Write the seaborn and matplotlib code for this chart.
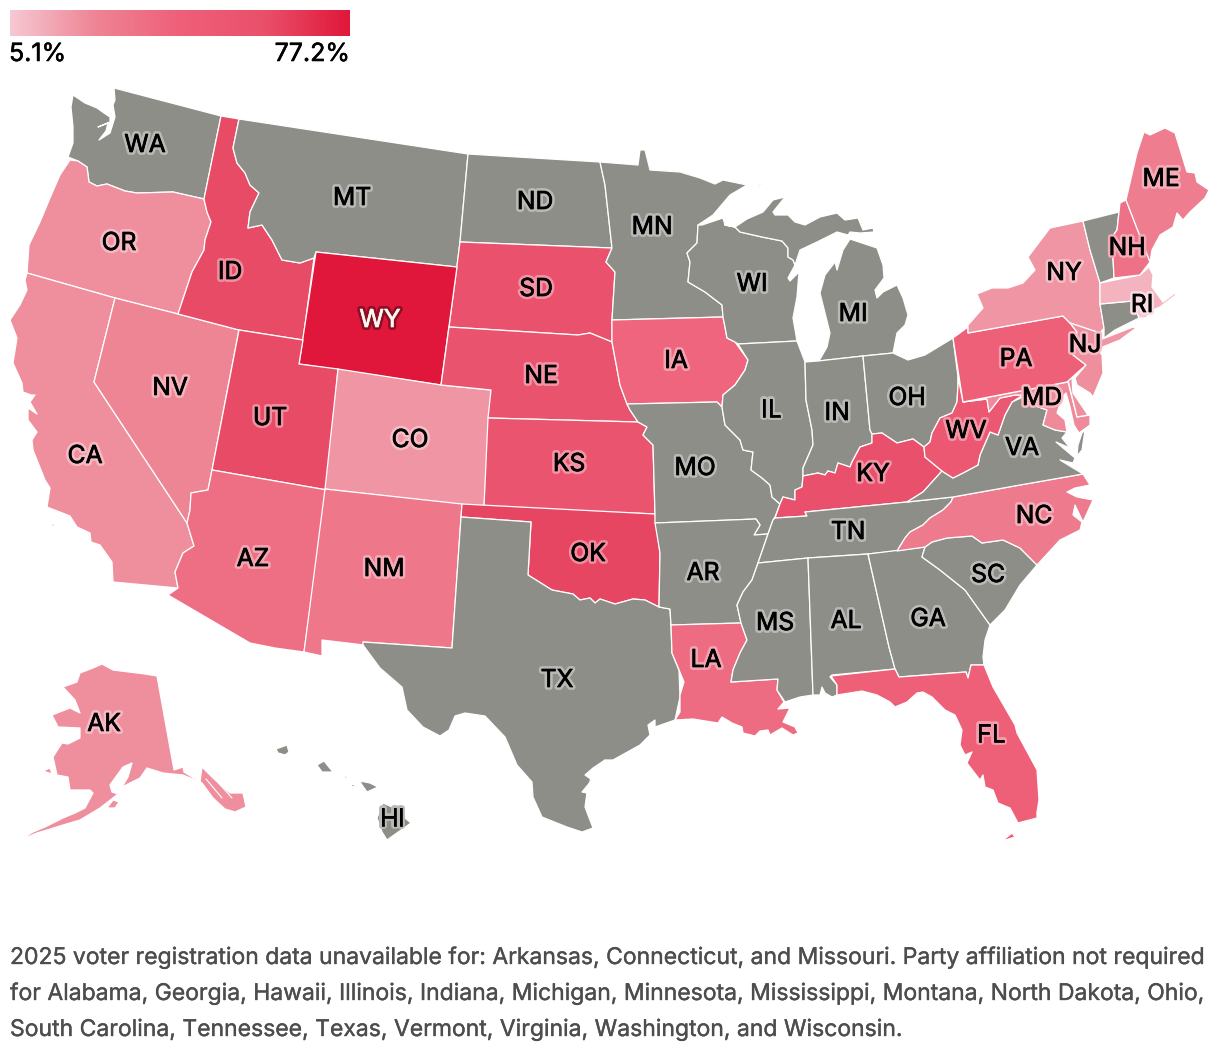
import numpy as np
import pandas as pd
import matplotlib
matplotlib.use("Agg")
import matplotlib.pyplot as plt
import matplotlib.patheffects as pe
from matplotlib.cm import ScalarMappable
from matplotlib.colors import Normalize, to_rgb
import seaborn as sns

sns.set_theme(style="white")
plt.rcParams["font.family"] = ["Inter", "DejaVu Sans"]

# share of registered voters per state (states left out = no data)
states = ["OR", "CA", "AK", "NV", "ID", "UT", "WY", "CO", "AZ", "NM", "SD", "NE", "KS", "OK", "IA", "LA",
          "FL", "KY", "WV", "PA", "NY", "NJ", "DE", "MD", "NC", "ME", "NH", "MA", "RI"]
shares = [20.2, 20.2, 20.2, 23.1, 60.5, 60.5, 77.2, 18.8, 33.9, 29.6, 56.5, 55.0, 54.1, 62.0, 38.3, 34.7,
          41.2, 58.0, 50.0, 41.2, 18.8, 20.2, 20.2, 21.7, 27.5, 26.7, 31.8, 10.9, 5.1]
legend_min = 5.1
legend_max = 77.2
gray = "#8e8e88"
ramp = ["#f5c8d2", "#ee8494", "#ee5f78", "#e94f6a", "#e0173a"]

outlines = {
    "WA": [[(114,88),(221,116),(204,199),(173,192),(137,193),(125,191),(107,184),(97,186),(89,182),(87,167),(78,161),(68,157),(73,143),(73,127),(71,107),(73,95),(85,103),(97,108),(104,113),(110,117),(110,122),(98,127),(108,123),(106,131),(99,140),(110,133),(115,117),(113,105),(115,100)]],
    "OR": [[(70,160),(78,161),(87,167),(89,182),(97,186),(107,184),(125,191),(137,193),(173,192),(204,199),(207,212),(211,222),(205,240),(204,250),(192,272),(178,314),(115,298),(27,273),(29,245),(40,222),(50,198),(60,175)]],
    "CA": [[(27,273),(115,298),(94,382),(187,523),(194,546),(183,553),(175,572),(178,588),(113,582),(112,562),(100,545),(91,542),(90,533),(77,527),(70,516),(47,507),(50,488),(45,480),(33,450),(32,440),(37,432),(28,420),(28,408),(37,414),(30,402),(35,395),(31,395),(23,392),(22,383),(13,363),(17,338),(10,320),(20,305),(27,290),(25,280)],
           [(51,524),(55,524),(53,527)]],
    "NV": [[(115,298),(178,314),(239,330),(212,470),(208,490),(191,493),(190,510),(187,523),(94,382)]],
    "ID": [[(221,116),(239,119),(233,148),(237,163),(245,173),(250,185),(259,193),(250,212),(248,228),(262,225),(272,240),(282,260),(300,263),(314,258),(303,340),(239,330),(178,314),(192,272),(204,250),(205,240),(211,222),(207,212),(204,199)]],
    "MT": [[(239,119),(468,154),(460,242),(457,267),(316,252),(314,258),(300,263),(282,260),(272,240),(262,225),(248,228),(250,212),(259,193),(250,185),(245,173),(237,163),(233,148)]],
    "ND": [[(468,154),(600,162),(605,185),(612,248),(460,242)]],
    "SD": [[(460,242),(612,248),(606,262),(615,272),(612,320),(612,342),(590,333),(578,335),(449,327)]],
    "WY": [[(316,252),(457,267),(441,385),(299,364)]],
    "UT": [[(239,330),(303,340),(299,364),(338,369),(327,490),(212,470)]],
    "CO": [[(338,369),(441,385),(491,390),(484,507),(325,489)]],
    "AZ": [[(212,470),(327,490),(304,652),(275,648),(250,643),(168,595),(178,588),(175,572),(183,553),(194,546),(187,523),(190,510),(191,493),(208,490)]],
    "NM": [[(325,489),(462,504),(452,648),(363,642),(364,645),(322,640),(322,656),(304,652)]],
    "NE": [[(449,327),(578,335),(590,333),(612,342),(620,385),(627,404),(630,410),(638,422),(488,418),(491,390),(441,385)]],
    "KS": [[(488,418),(638,422),(647,427),(643,435),(653,445),(655,514),(484,507)]],
    "OK": [[(462,504),(655,514),(660,553),(659,607),(645,600),(633,599),(615,604),(600,599),(595,603),(590,598),(580,600),(573,594),(552,590),(528,575),(531,522),(461,517)]],
    "TX": [[(461,517),(531,522),(528,575),(552,590),(573,594),(580,600),(590,598),(595,603),(600,599),(615,604),(633,599),(645,600),(659,607),(670,609),(671,625),(672,653),(679,670),(680,697),(675,720),(655,727),(655,720),(648,725),(650,735),(640,745),(613,760),(605,760),(593,768),(585,775),(592,780),(582,792),(587,793),(585,807),(590,820),(593,828),(582,832),(567,827),(542,817),(533,797),(532,782),(517,765),(505,737),(485,716),(465,713),(455,716),(449,730),(440,736),(423,727),(407,710),(402,687),(380,668),(363,645),(363,642),(452,648)]],
    "MN": [[(600,162),(638,165),(640,150),(645,150),(650,170),(680,172),(700,178),(715,184),(723,180),(747,185),(730,195),(713,215),(698,225),(697,243),(687,253),(690,262),(688,282),(705,292),(722,305),(723,317),(612,320),(615,272),(606,262),(612,248),(605,185)],
           [(756,187),(767,179),(760,186)]],
    "IA": [[(612,320),(723,317),(725,327),(727,338),(735,342),(748,360),(745,370),(735,385),(723,395),(722,407),(717,402),(627,404),(620,385),(612,342)]],
    "MO": [[(627,404),(717,402),(722,407),(725,425),(740,440),(743,450),(753,452),(751,470),(762,478),(770,485),(772,497),(780,504),(775,517),(773,520),(768,534),(754,535),(760,525),(756,519),(655,523),(655,514),(653,445),(643,435),(647,427),(638,422),(630,410)]],
    "AR": [[(655,523),(756,519),(760,525),(754,535),(768,534),(758,563),(752,580),(743,592),(737,605),(741,623),(671,625),(670,609),(659,607),(660,553)]],
    "LA": [[(671,625),(741,623),(747,640),(740,653),(733,670),(731,682),(778,679),(777,690),(784,702),(778,709),(790,708),(783,722),(795,727),(798,733),(793,735),(782,728),(770,735),(768,730),(760,731),(755,736),(743,733),(742,727),(732,723),(722,717),(718,723),(693,719),(675,720),(680,712),(680,695),(684,682),(677,665),(672,653)]],
    "WI": [[(698,225),(702,225),(723,218),(725,225),(735,227),(740,232),(762,237),(782,241),(788,248),(788,257),(793,260),(795,265),(788,278),(790,281),(799,272),(797,297),(793,318),(797,341),(738,344),(735,342),(727,338),(725,327),(723,317),(722,305),(705,292),(688,282),(690,262),(687,253),(697,243)]],
    "MI": [[(725,225),(735,227),(747,219),(763,212),(773,200),(785,197),(773,212),(775,215),(788,215),(795,222),(805,225),(820,217),(837,213),(845,220),(858,218),(863,230),(873,228),(874,232),(860,233),(850,232),(848,235),(837,232),(817,242),(800,250),(795,265),(793,260),(788,257),(788,248),(782,241),(762,237),(740,232),(735,227)],
           [(850,239),(877,248),(883,265),(884,278),(875,290),(877,298),(883,292),(897,285),(903,298),(908,315),(905,325),(897,333),(893,353),(863,356),(819,361),(827,347),(830,333),(820,293),(825,275),(835,262),(837,270),(843,250)]],
    "IL": [[(738,344),(797,341),(805,362),(806,400),(812,430),(813,445),(803,468),(803,476),(802,487),(795,490),(795,500),(783,497),(780,504),(772,497),(770,485),(762,478),(751,470),(753,452),(743,450),(740,440),(725,425),(722,407),(723,395),(735,385),(745,370),(748,360)]],
    "IN": [[(805,362),(818,361),(863,356),(870,430),(872,434),(872,443),(860,447),(852,462),(850,467),(838,463),(835,473),(828,471),(825,475),(818,473),(803,476),(803,468),(813,445),(812,430),(806,400)]],
    "OH": [[(863,356),(893,353),(908,360),(925,355),(953,338),(958,377),(958,385),(957,402),(952,413),(940,418),(932,433),(930,442),(924,447),(913,439),(897,443),(882,433),(872,434),(870,430)]],
    "KY": [[(775,518),(780,504),(783,497),(795,500),(795,490),(802,487),(803,476),(818,473),(825,475),(828,471),(835,473),(838,463),(850,467),(852,462),(860,447),(872,443),(872,434),(882,433),(897,443),(913,439),(924,447),(925,457),(942,471),(923,492),(907,502),(805,512),(807,516)]],
    "TN": [[(775,518),(807,516),(805,512),(907,502),(953,497),(951,502),(943,510),(930,518),(923,525),(910,532),(905,538),(897,551),(868,554),(808,558),(758,563),(768,534),(773,520)]],
    "MS": [[(758,563),(808,558),(813,695),(800,697),(785,702),(777,690),(778,679),(731,682),(733,670),(740,653),(747,640),(741,623),(737,605),(743,592),(752,580)]],
    "AL": [[(808,558),(868,554),(889,647),(895,669),(832,675),(830,677),(837,685),(837,695),(832,697),(825,693),(822,687),(820,695),(813,695)]],
    "GA": [[(868,554),(925,547),(922,557),(940,570),(965,590),(990,625),(985,640),(983,657),(984,665),(971,665),(968,678),(966,672),(899,677),(895,669),(889,647)]],
    "SC": [[(925,547),(932,542),(947,538),(972,536),(982,543),(1003,540),(1020,548),(1037,565),(1020,585),(1005,610),(990,625),(965,590),(940,570),(922,557)]],
    "FL": [[(831,676),(895,669),(899,677),(966,672),(968,678),(971,665),(984,665),(993,687),(1015,725),(1017,733),(1037,770),(1039,800),(1037,812),(1037,818),(1018,823),(1010,808),(998,803),(993,790),(985,787),(983,775),(980,780),(967,763),(972,752),(965,755),(960,745),(962,730),(955,715),(945,710),(932,697),(923,692),(917,693),(907,702),(895,707),(890,702),(877,695),(862,691),(837,695),(837,685)],
           [(1002,841),(1012,833),(1015,837)]],
    "NC": [[(953,497),(1020,485),(1083,474),(1090,485),(1075,488),(1067,492),(1077,497),(1093,500),(1083,522),(1075,505),(1073,515),(1082,522),(1080,530),(1060,540),(1037,565),(1020,548),(1003,540),(982,543),(972,536),(947,538),(932,542),(925,547),(897,551),(905,538),(910,532),(923,525),(930,518),(943,510),(951,502)]],
    "VA": [[(1012,402),(1023,397),(1033,405),(1047,410),(1043,425),(1055,430),(1067,432),(1062,438),(1070,448),(1056,442),(1075,458),(1073,463),(1060,460),(1083,474),(1020,485),(953,497),(907,502),(923,492),(942,471),(945,473),(953,478),(963,473),(978,465),(980,455),(990,432),(998,435),(1005,415)],
           [(1085,430),(1082,433),(1078,445),(1077,456),(1082,450)]],
    "WV": [[(958,377),(963,402),(987,399),(989,412),(1000,398),(1015,395),(1023,395),(1012,402),(1005,415),(998,435),(990,432),(980,455),(978,465),(963,473),(953,478),(945,473),(942,471),(925,457),(924,447),(930,442),(932,433),(940,418),(952,413),(957,402),(958,385)]],
    "MD": [[(963,402),(1068,382),(1077,417),(1090,415),(1090,425),(1079,433),(1074,425),(1070,407),(1066,393),(1062,397),(1057,413),(1065,420),(1067,432),(1055,430),(1043,425),(1047,410),(1033,405),(1023,395),(1015,395),(1000,398),(989,412),(987,399)]],
    "DE": [[(1068,380),(1072,378),(1073,393),(1088,415),(1077,417)]],
    "PA": [[(953,338),(968,327),(968,333),(1063,316),(1070,323),(1077,332),(1073,355),(1086,365),(1078,372),(1067,382),(963,402)]],
    "NY": [[(968,325),(983,308),(977,294),(992,288),(1008,288),(1023,283),(1035,270),(1028,257),(1050,228),(1083,221),(1090,250),(1100,283),(1100,304),(1104,328),(1100,333),(1070,323),(1063,316),(968,333)],
           [(1100,340),(1133,327),(1136,328),(1120,340),(1100,348)]],
    "NJ": [[(1070,323),(1100,333),(1098,350),(1102,355),(1103,373),(1093,397),(1090,393),(1077,385),(1075,378),(1086,365),(1073,355),(1077,332)]],
    "CT": [[(1100,304),(1133,301),(1139,318),(1115,330),(1104,338),(1104,328)]],
    "RI": [[(1133,301),(1143,300),(1153,310),(1146,318),(1139,318)]],
    "MA": [[(1100,283),(1140,275),(1149,267),(1153,275),(1152,287),(1163,302),(1175,293),(1176,295),(1160,307),(1153,310),(1143,300),(1100,304)]],
    "VT": [[(1083,221),(1119,212),(1117,230),(1112,237),(1114,278),(1100,283),(1090,250)]],
    "NH": [[(1120,203),(1126,200),(1150,262),(1140,275),(1114,278),(1112,237),(1117,230),(1119,212)]],
    "ME": [[(1126,200),(1137,153),(1144,132),(1150,135),(1165,128),(1175,133),(1187,172),(1195,173),(1197,182),(1209,190),(1205,198),(1190,212),(1183,220),(1177,213),(1173,227),(1160,235),(1152,250),(1150,262)]],
    "AK": [[(102,664),(113,670),(145,674),(157,676),(174,770),(183,767),(184,772),(200,782),(202,767),(213,778),(230,793),(243,793),(246,807),(235,812),(225,809),(213,798),(202,783),(183,775),(163,773),(147,768),(140,778),(122,787),(128,777),(132,763),(123,767),(115,778),(110,785),(112,792),(118,794),(100,808),(80,820),(63,825),(47,830),(37,833),(20,840),(33,832),(45,827),(63,818),(75,813),(85,808),(93,793),(90,790),(70,790),(68,777),(57,775),(53,757),(62,743),(68,744),(80,738),(80,728),(58,727),(52,715),(70,708),(80,713),(75,700),(63,687),(77,682),(80,673),(93,668)],
           [(107,808),(113,800),(119,802),(115,808)],
           [(31,732),(43,738),(35,735)],
           [(43,771),(50,768),(52,774)]],
    "HI": [[(383,803),(392,807),(411,823),(387,840),(382,832),(377,818)],
           [(360,781),(370,783),(378,787),(367,792),(362,785)],
           [(343,776),(354,777),(345,778)],
           [(350,784),(356,785),(353,787)],
           [(317,765),(324,761),(333,772),(322,772)],
           [(276,749),(287,745),(289,752),(285,755),(278,753)]],
}

# thin water lines inside the land shapes
channels = [
    [(605,760),(592,775),(587,790),(586,808),(590,820)],
    [(206,779),(222,798)],
    [(212,776),(232,798)],
]

# where the state abbreviations sit
label_states = ["WA", "MT", "ND", "MN", "OR", "ID", "WY", "SD", "WI", "MI", "NY", "NH", "ME", "RI", "NJ", "PA", "MD",
                "NV", "UT", "CO", "NE", "IA", "IL", "IN", "OH", "WV", "VA", "KY", "CA", "KS", "MO", "AZ", "NM", "OK",
                "AR", "TN", "NC", "MS", "AL", "GA", "SC", "TX", "LA", "FL", "AK", "HI"]
label_x = [145, 352, 535, 652, 119, 230, 380, 536, 752, 853, 1064, 1127, 1161, 1142, 1085, 1016, 1042,
           170, 270, 410, 541, 676, 771, 837, 907, 966, 1022, 873, 85, 569, 695, 253, 384, 588,
           703, 848, 1034, 775, 846, 928, 988, 557, 706, 991, 104, 392]
label_y = [143, 196, 200, 225, 241, 270, 318, 287, 282, 312, 271, 246, 177, 303, 343, 357, 396,
           386, 416, 438, 374, 359, 408, 411, 396, 429, 446, 472, 454, 462, 466, 557, 567, 552,
           571, 530, 514, 621, 619, 617, 573, 678, 658, 733, 722, 817]

note_lines = [
    "2025 voter registration data unavailable for: Arkansas, Connecticut, and Missouri. Party affiliation not required",
    "for Alabama, Georgia, Hawaii, Illinois, Indiana, Michigan, Minnesota, Mississippi, Montana, North Dakota, Ohio,",
    "South Carolina, Tennessee, Texas, Vermont, Virginia, Washington, and Wisconsin.",
]

df = pd.DataFrame({"state": states, "share": shares}).set_index("state")
cmap = sns.blend_palette(ramp, n_colors=256, as_cmap=True)
norm = Normalize(legend_min, legend_max)


def state_colour(code):
    if code in df.index:
        return cmap(norm(df.loc[code, "share"]))
    return to_rgb(gray)


fig = plt.figure(figsize=(12.2, 10.58), dpi=100, facecolor="white")
ax = fig.add_axes([0, 0, 1, 1])
ax.set_xlim(0, 1220)
ax.set_ylim(1058, 0)
ax.axis("off")

for code, parts in outlines.items():
    for part in parts:
        xs, ys = zip(*part)
        ax.fill(xs, ys, facecolor=state_colour(code), edgecolor="white", linewidth=0.9, joinstyle="round")

for line in channels:
    xs, ys = zip(*line)
    ax.plot(xs, ys, color="white", linewidth=0.8)

# state labels with a soft halo
for code, x, y in zip(label_states, label_x, label_y):
    base = np.array(to_rgb(state_colour(code)[:3]))
    halo = base + (1 - base) * 0.38
    txt_col = "black"
    if code == "WY":
        txt_col, halo = "#fdf6f0", base * 0.62
    ax.text(x, y, code, ha="center", va="center_baseline", fontsize=17.8, color=txt_col,
            path_effects=[pe.Stroke(linewidth=4.2, foreground=tuple(halo)),
                          pe.Stroke(linewidth=0.5, foreground=txt_col), pe.Normal()])

# legend
cax = fig.add_axes([10 / 1220, 1 - 36 / 1058, 340 / 1220, 26 / 1058])
cb = fig.colorbar(ScalarMappable(norm=norm, cmap=cmap), cax=cax, orientation="horizontal")
cb.set_ticks([])
cb.outline.set_visible(False)
legend_fx = [pe.Stroke(linewidth=0.4, foreground="black"), pe.Normal()]
ax.text(9, 61, f"{legend_min}%", ha="left", va="baseline", fontsize=18, color="black", path_effects=legend_fx)
ax.text(350, 61, f"{legend_max}%", ha="right", va="baseline", fontsize=18, color="black", path_effects=legend_fx)

# footnote
for i, line in enumerate(note_lines):
    ax.text(10, 964 + i * 36, line, ha="left", va="baseline", fontsize=16.53, color="#4d4d4d",
            path_effects=[pe.Stroke(linewidth=0.25, foreground="#4d4d4d"), pe.Normal()])

fig.savefig("out.png", dpi=100, facecolor="white")
